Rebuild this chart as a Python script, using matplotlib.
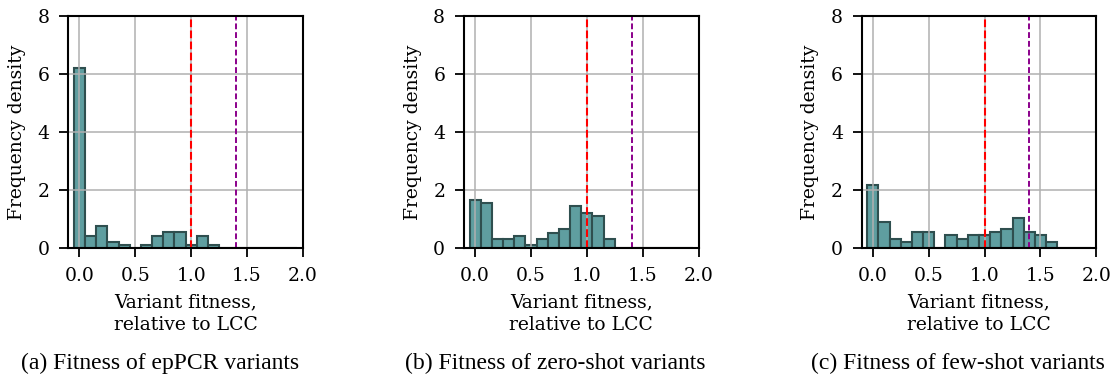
import numpy as np
import matplotlib
matplotlib.use("Agg")
import matplotlib.pyplot as plt

# Histogram bin edges (width 0.1, centred on multiples of 0.1)
bin_edges = np.round(np.arange(-0.05, 2.0, 0.1), 3)

# Frequency density per bin (bins centred at 0.0, 0.1, ..., 1.9)
eppcr_density = [6.2, 0.42, 0.76, 0.22, 0.10, 0.0, 0.10, 0.42, 0.55, 0.55,
                 0.10, 0.44, 0.10, 0.0, 0.0, 0.0, 0.0, 0.0, 0.0, 0.0]
zeroshot_density = [1.66, 1.55, 0.31, 0.31, 0.44, 0.10, 0.31, 0.54, 0.66, 1.44,
                    1.22, 1.11, 0.31, 0.0, 0.0, 0.0, 0.0, 0.0, 0.0, 0.0]
fewshot_density = [2.17, 0.91, 0.32, 0.22, 0.57, 0.57, 0.0, 0.45, 0.32, 0.45,
                   0.45, 0.57, 0.68, 1.03, 0.57, 0.46, 0.23, 0.0, 0.0, 0.0]

lcc_fitness = 1.0
best_fitness = 1.4

captions = ["(a) Fitness of epPCR variants",
            "(b) Fitness of zero-shot variants",
            "(c) Fitness of few-shot variants"]
xlabel = "Variant fitness,\nrelative to LCC"
ylabel = "Frequency density"
xticks = [0.0, 0.5, 1.0, 1.5, 2.0]
yticks = [0, 2, 4, 6, 8]

W, H = 1110, 375
fig = plt.figure(figsize=(W / 100, H / 100), dpi=100)
plt.rcParams['font.family'] = ['DejaVu Serif']

panels = [eppcr_density, zeroshot_density, fewshot_density]
lefts_px = [68.3, 464.0, 861.7]
width_px = 234.6
top_px, bot_px = 15.7, 248.3
height_px = bot_px - top_px
caption_x = [160, 555, 958]
FS = 13.5

for i, dens in enumerate(panels):
    l = lefts_px[i]
    ax = fig.add_axes([l / W, (H - bot_px) / H, width_px / W, height_px / H])
    ax.bar(bin_edges[:-1], dens, width=np.diff(bin_edges), align='edge',
           color='#5F9EA0', edgecolor='#2F4F4F', linewidth=1.5, zorder=2)
    ax.axvline(lcc_fitness, color='red', linestyle='--', linewidth=1.5, zorder=4)
    ax.axvline(best_fitness, color='#8B008B', linestyle=(0, (3, 1.5)), linewidth=1.4, zorder=4)
    ax.grid(True, color='#b0b0b0', linewidth=1.1, zorder=3)
    ax.set_axisbelow(False)
    ax.set_xlim(-0.1, 2.0)
    ax.set_ylim(0, 8)
    ax.set_xticks(xticks)
    ax.set_xticklabels([f"{t:.1f}" for t in xticks])
    ax.set_yticks(yticks)
    for s in ax.spines.values():
        s.set_linewidth(1.5)
        s.set_zorder(5)
    ax.tick_params(axis='both', labelsize=FS, width=1.3, length=6.5, pad=7)
    ax.set_xlabel(xlabel, fontsize=FS, linespacing=1.3)
    ax.xaxis.set_label_coords(0.5, (bot_px - 293.5) / height_px)
    ax.set_ylabel(ylabel, fontsize=FS)
    ax.yaxis.set_label_coords(-42.5 / width_px, 0.5)
    fig.text(caption_x[i] / W, 1 - 363 / H, captions[i], ha='center', va='center',
             fontsize=17, family=['Liberation Serif'])

fig.savefig("out.png", dpi=100)
